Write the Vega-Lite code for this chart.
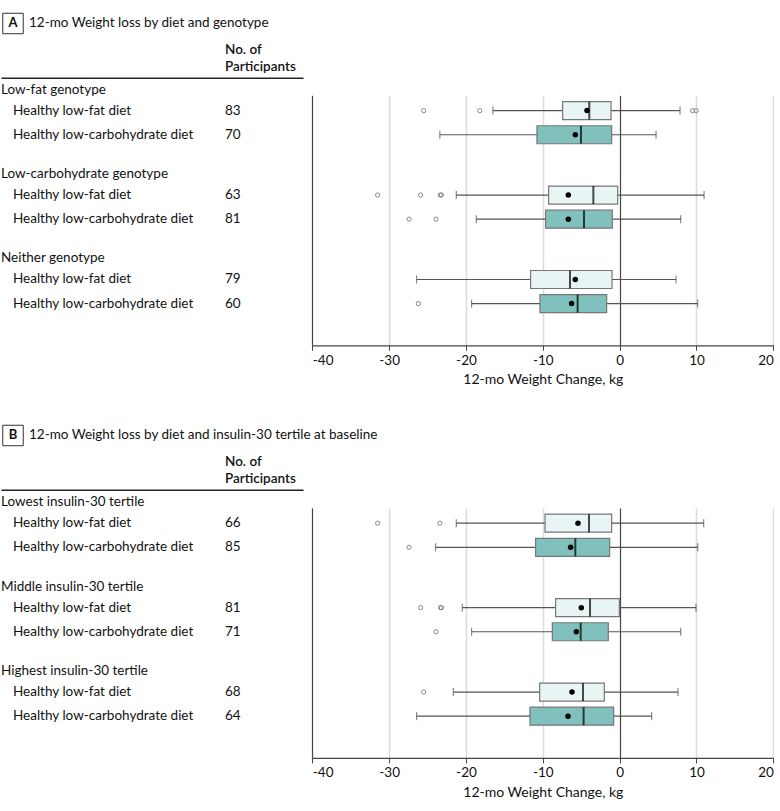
{
  "$schema": "https://vega.github.io/schema/vega-lite/v6.json",
  "padding": 0,
  "background": "white",
  "config": {"view": {"stroke": null}, "font": "Lato", "text": {"color": "#111", "fontSize": 13.5}},
  "datasets": {
    "boxA": [
      {"row": "Low-fat genotype / Healthy low-fat diet", "group": "Low-fat genotype", "diet": "Healthy low-fat diet", "n": 83, "lo": -16.5, "q1": -7.42, "median": -3.95, "q3": -1.12, "hi": 7.86, "mean": -4.25},
      {"row": "Low-fat genotype / Healthy low-carbohydrate diet", "group": "Low-fat genotype", "diet": "Healthy low-carbohydrate diet", "n": 70, "lo": -23.4, "q1": -10.76, "median": -5.03, "q3": -1.04, "hi": 4.74, "mean": -5.77},
      {"row": "Low-carbohydrate genotype / Healthy low-fat diet", "group": "Low-carbohydrate genotype", "diet": "Healthy low-fat diet", "n": 63, "lo": -21.26, "q1": -9.24, "median": -3.42, "q3": -0.26, "hi": 10.99, "mean": -6.68},
      {"row": "Low-carbohydrate genotype / Healthy low-carbohydrate diet", "group": "Low-carbohydrate genotype", "diet": "Healthy low-carbohydrate diet", "n": 81, "lo": -18.66, "q1": -9.64, "median": -4.64, "q3": -0.95, "hi": 7.95, "mean": -6.68},
      {"row": "Neither genotype / Healthy low-fat diet", "group": "Neither genotype", "diet": "Healthy low-fat diet", "n": 79, "lo": -26.43, "q1": -11.59, "median": -6.46, "q3": -0.99, "hi": 7.34, "mean": -5.77},
      {"row": "Neither genotype / Healthy low-carbohydrate diet", "group": "Neither genotype", "diet": "Healthy low-carbohydrate diet", "n": 60, "lo": -19.27, "q1": -10.37, "median": -5.47, "q3": -1.69, "hi": 10.16, "mean": -6.25}
    ],
    "outA": [
      {"row": "Low-fat genotype / Healthy low-fat diet", "value": -25.5},
      {"row": "Low-fat genotype / Healthy low-fat diet", "value": -18.2},
      {"row": "Low-fat genotype / Healthy low-fat diet", "value": 9.5},
      {"row": "Low-fat genotype / Healthy low-fat diet", "value": 9.95},
      {"row": "Low-carbohydrate genotype / Healthy low-fat diet", "value": -31.5},
      {"row": "Low-carbohydrate genotype / Healthy low-fat diet", "value": -25.9},
      {"row": "Low-carbohydrate genotype / Healthy low-fat diet", "value": -23.35},
      {"row": "Low-carbohydrate genotype / Healthy low-fat diet", "value": -23.2},
      {"row": "Low-carbohydrate genotype / Healthy low-carbohydrate diet", "value": -27.4},
      {"row": "Low-carbohydrate genotype / Healthy low-carbohydrate diet", "value": -23.9},
      {"row": "Neither genotype / Healthy low-carbohydrate diet", "value": -26.2}
    ],
    "boxB": [
      {"row": "Lowest insulin-30 tertile / Healthy low-fat diet", "group": "Lowest insulin-30 tertile", "diet": "Healthy low-fat diet", "n": 66, "lo": -21.26, "q1": -9.71, "median": -3.99, "q3": -1.04, "hi": 10.94, "mean": -5.42},
      {"row": "Lowest insulin-30 tertile / Healthy low-carbohydrate diet", "group": "Lowest insulin-30 tertile", "diet": "Healthy low-carbohydrate diet", "n": 85, "lo": -23.96, "q1": -10.94, "median": -5.77, "q3": -1.3, "hi": 10.16, "mean": -6.38},
      {"row": "Middle insulin-30 tertile / Healthy low-fat diet", "group": "Middle insulin-30 tertile", "diet": "Healthy low-fat diet", "n": 81, "lo": -20.48, "q1": -8.33, "median": -3.86, "q3": -0.04, "hi": 9.94, "mean": -4.99},
      {"row": "Middle insulin-30 tertile / Healthy low-carbohydrate diet", "group": "Middle insulin-30 tertile", "diet": "Healthy low-carbohydrate diet", "n": 71, "lo": -19.27, "q1": -8.76, "median": -5.07, "q3": -1.47, "hi": 7.95, "mean": -5.64},
      {"row": "Highest insulin-30 tertile / Healthy low-fat diet", "group": "Highest insulin-30 tertile", "diet": "Healthy low-fat diet", "n": 68, "lo": -21.65, "q1": -10.41, "median": -4.77, "q3": -1.99, "hi": 7.6, "mean": -6.2},
      {"row": "Highest insulin-30 tertile / Healthy low-carbohydrate diet", "group": "Highest insulin-30 tertile", "diet": "Healthy low-carbohydrate diet", "n": 64, "lo": -26.43, "q1": -11.67, "median": -4.69, "q3": -0.78, "hi": 4.17, "mean": -6.72}
    ],
    "outB": [
      {"row": "Lowest insulin-30 tertile / Healthy low-fat diet", "value": -31.5},
      {"row": "Lowest insulin-30 tertile / Healthy low-fat diet", "value": -23.4},
      {"row": "Lowest insulin-30 tertile / Healthy low-carbohydrate diet", "value": -27.4},
      {"row": "Middle insulin-30 tertile / Healthy low-fat diet", "value": -25.9},
      {"row": "Middle insulin-30 tertile / Healthy low-fat diet", "value": -23.3},
      {"row": "Middle insulin-30 tertile / Healthy low-fat diet", "value": -23.2},
      {"row": "Middle insulin-30 tertile / Healthy low-carbohydrate diet", "value": -23.9},
      {"row": "Highest insulin-30 tertile / Healthy low-fat diet", "value": -25.5}
    ],
    "headA": [{"letter": "A", "title": "12-mo Weight loss by diet and genotype", "col1": "No. of", "col2": "Participants"}],
    "headB": [{"letter": "B", "title": "12-mo Weight loss by diet and insulin-30 tertile at baseline", "col1": "No. of", "col2": "Participants"}]
  },
  "vconcat": [
    {
      "width": 302, "height": 77.7,
      "data": {"name": "headA"},
      "layer": [
        {"mark": {"type": "point", "shape": "square", "size": 420, "filled": false, "stroke": "#333", "strokeWidth": 1, "opacity": 1},
         "encoding": {
           "x": {"datum": "label", "type": "nominal", "scale": {"type": "point", "domain": ["label", "count"], "range": [0, 302], "padding": 0.2123, "align": 0.1333}, "axis": {"domain": true, "domainColor": "#222", "domainWidth": 1.5, "ticks": false, "labels": false, "grid": false, "title": null}},
           "y": {"datum": "title", "type": "nominal", "scale": {"type": "point", "domain": ["title", "cols"], "padding": 0.3931, "align": 0.6871}, "axis": null}}},
        {"mark": {"type": "text", "fontWeight": "bold", "align": "center", "baseline": "middle", "fontSize": 13},
         "encoding": {
           "x": {"datum": "label", "type": "nominal"},
           "y": {"datum": "title", "type": "nominal"},
           "text": {"field": "letter"}}},
        {"mark": {"type": "text", "align": "left", "baseline": "middle", "dx": 16, "fontSize": 13.5},
         "encoding": {
           "x": {"datum": "label", "type": "nominal"},
           "y": {"datum": "title", "type": "nominal"},
           "text": {"field": "title"}}},
        {"mark": {"type": "text", "align": "left", "baseline": "middle", "dy": -17, "fontWeight": 600},
         "encoding": {
           "x": {"datum": "count", "type": "nominal"},
           "y": {"datum": "cols", "type": "nominal"},
           "text": {"field": "col1"}}},
        {"mark": {"type": "text", "align": "left", "baseline": "middle", "fontWeight": 600},
         "encoding": {
           "x": {"datum": "count", "type": "nominal"},
           "y": {"datum": "cols", "type": "nominal"},
           "text": {"field": "col2"}}}
      ]
    },
    {
      "width": 773, "height": 250,
      "data": {"name": "boxA"},
      "resolve": {"scale": {"x": "independent"}},
      "layer": [
        {"mark": {"type": "text", "align": "left", "baseline": "middle"},
         "encoding": {
           "x": {"datum": "label", "type": "nominal", "scale": {"type": "point", "domain": ["label", "count"], "range": [0, 302], "padding": 0.2123, "align": 0.1333}, "axis": null},
           "y": {"field": "row", "type": "nominal", "scale": {"type": "point", "domain": ["Low-fat genotype / Healthy low-fat diet", "gap 1", "Low-fat genotype / Healthy low-carbohydrate diet", "gap 2", "gap 3", "gap 4", "gap 5", "Low-carbohydrate genotype / Healthy low-fat diet", "gap 6", "Low-carbohydrate genotype / Healthy low-carbohydrate diet", "gap 7", "gap 8", "gap 9", "gap 10", "Neither genotype / Healthy low-fat diet", "gap 11", "Neither genotype / Healthy low-carbohydrate diet", "gap 12", "gap 13", "gap 14"], "padding": 0.8627, "align": 0.7352}, "axis": null},
           "text": {"field": "diet"}}},
        {"mark": {"type": "text", "align": "left", "baseline": "middle"},
         "encoding": {
           "x": {"datum": "count", "type": "nominal", "scale": {"type": "point", "domain": ["label", "count"], "range": [0, 302], "padding": 0.2123, "align": 0.1333}, "axis": null},
           "y": {"field": "row", "type": "nominal"},
           "text": {"field": "n"}}},
        {"transform": [{"filter": "datum.diet === 'Healthy low-fat diet'"}],
         "mark": {"type": "text", "align": "left", "baseline": "middle", "dx": -12, "dy": -21},
         "encoding": {
           "x": {"datum": "label", "type": "nominal", "scale": {"type": "point", "domain": ["label", "count"], "range": [0, 302], "padding": 0.2123, "align": 0.1333}, "axis": null},
           "y": {"field": "row", "type": "nominal"},
           "text": {"field": "group"}}},
        {"mark": {"type": "rule", "color": "#555", "strokeWidth": 1.2},
         "encoding": {
           "x": {"field": "lo", "type": "quantitative", "scale": {"domain": [-40, 20], "range": [311.3, 772.3], "nice": false, "zero": false},
                 "axis": {"orient": "bottom", "title": "12-mo Weight Change, kg", "values": [-40, -30, -20, -10, 0, 10, 20], "labelExpr": "'' + datum.value", "grid": true,
                          "gridColor": {"condition": {"test": "datum.value === 0 || datum.value === -40", "value": "#444"}, "value": "#dcdcdc"},
                          "gridWidth": {"condition": {"test": "datum.value === 0 || datum.value === -40", "value": 1.2}, "value": 1.6},
                          "domainColor": "#444", "domainWidth": 1.2, "tickColor": "#444", "tickSize": 5, "labelFontSize": 13.5, "labelColor": "#111", "labelPadding": 3, "titleFontSize": 14, "titleFontWeight": "normal", "titleColor": "#111", "titlePadding": 6}},
           "x2": {"field": "hi"},
           "y": {"field": "row", "type": "nominal"}}},
        {"mark": {"type": "tick", "color": "#555", "thickness": 1.2, "size": 8},
         "encoding": {
           "x": {"field": "lo", "type": "quantitative", "scale": {"domain": [-40, 20], "range": [311.3, 772.3], "nice": false, "zero": false}, "axis": null},
           "y": {"field": "row", "type": "nominal"}}},
        {"mark": {"type": "tick", "color": "#555", "thickness": 1.2, "size": 8},
         "encoding": {
           "x": {"field": "hi", "type": "quantitative", "scale": {"domain": [-40, 20], "range": [311.3, 772.3], "nice": false, "zero": false}, "axis": null},
           "y": {"field": "row", "type": "nominal"}}},
        {"mark": {"type": "bar", "size": 18, "stroke": "#777", "strokeWidth": 1.2},
         "encoding": {
           "x": {"field": "q1", "type": "quantitative", "scale": {"domain": [-40, 20], "range": [311.3, 772.3], "nice": false, "zero": false}, "axis": null},
           "x2": {"field": "q3"},
           "y": {"field": "row", "type": "nominal"},
           "fill": {"field": "diet", "type": "nominal", "scale": {"domain": ["Healthy low-fat diet", "Healthy low-carbohydrate diet"], "range": ["#e9f4f4", "#80c1bd"]}, "legend": null}}},
        {"mark": {"type": "tick", "color": "#000", "thickness": 2, "size": 18},
         "encoding": {
           "x": {"field": "median", "type": "quantitative", "scale": {"domain": [-40, 20], "range": [311.3, 772.3], "nice": false, "zero": false}, "axis": null},
           "y": {"field": "row", "type": "nominal"}}},
        {"mark": {"type": "circle", "color": "#000", "size": 30, "opacity": 1},
         "encoding": {
           "x": {"field": "mean", "type": "quantitative", "scale": {"domain": [-40, 20], "range": [311.3, 772.3], "nice": false, "zero": false}, "axis": null},
           "y": {"field": "row", "type": "nominal"}}},
        {"data": {"name": "outA"},
         "mark": {"type": "point", "shape": "circle", "filled": false, "stroke": "#888", "strokeWidth": 1, "size": 18, "opacity": 1},
         "encoding": {
           "x": {"field": "value", "type": "quantitative", "scale": {"domain": [-40, 20], "range": [311.3, 772.3], "nice": false, "zero": false}, "axis": null},
           "y": {"field": "row", "type": "nominal"}}}
      ]
    },
    {
      "width": 302, "height": 127.1,
      "data": {"name": "headB"},
      "layer": [
        {"mark": {"type": "point", "shape": "square", "size": 420, "filled": false, "stroke": "#333", "strokeWidth": 1, "opacity": 1},
         "encoding": {
           "x": {"datum": "label", "type": "nominal", "scale": {"type": "point", "domain": ["label", "count"], "range": [0, 302], "padding": 0.2123, "align": 0.1333}, "axis": {"domain": true, "domainColor": "#222", "domainWidth": 1.5, "ticks": false, "labels": false, "grid": false, "title": null}},
           "y": {"datum": "title", "type": "nominal", "scale": {"type": "point", "domain": ["title", "cols"], "padding": 0.9609, "align": 0.872}, "axis": null}}},
        {"mark": {"type": "text", "fontWeight": "bold", "align": "center", "baseline": "middle", "fontSize": 13},
         "encoding": {
           "x": {"datum": "label", "type": "nominal"},
           "y": {"datum": "title", "type": "nominal"},
           "text": {"field": "letter"}}},
        {"mark": {"type": "text", "align": "left", "baseline": "middle", "dx": 16, "fontSize": 13.5},
         "encoding": {
           "x": {"datum": "label", "type": "nominal"},
           "y": {"datum": "title", "type": "nominal"},
           "text": {"field": "title"}}},
        {"mark": {"type": "text", "align": "left", "baseline": "middle", "dy": -17, "fontWeight": 600},
         "encoding": {
           "x": {"datum": "count", "type": "nominal"},
           "y": {"datum": "cols", "type": "nominal"},
           "text": {"field": "col1"}}},
        {"mark": {"type": "text", "align": "left", "baseline": "middle", "fontWeight": 600},
         "encoding": {
           "x": {"datum": "count", "type": "nominal"},
           "y": {"datum": "cols", "type": "nominal"},
           "text": {"field": "col2"}}}
      ]
    },
    {
      "width": 773, "height": 250,
      "data": {"name": "boxB"},
      "resolve": {"scale": {"x": "independent"}},
      "layer": [
        {"mark": {"type": "text", "align": "left", "baseline": "middle"},
         "encoding": {
           "x": {"datum": "label", "type": "nominal", "scale": {"type": "point", "domain": ["label", "count"], "range": [0, 302], "padding": 0.2123, "align": 0.1333}, "axis": null},
           "y": {"field": "row", "type": "nominal", "scale": {"type": "point", "domain": ["Lowest insulin-30 tertile / Healthy low-fat diet", "gap 1", "Lowest insulin-30 tertile / Healthy low-carbohydrate diet", "gap 2", "gap 3", "gap 4", "gap 5", "Middle insulin-30 tertile / Healthy low-fat diet", "gap 6", "Middle insulin-30 tertile / Healthy low-carbohydrate diet", "gap 7", "gap 8", "gap 9", "gap 10", "Highest insulin-30 tertile / Healthy low-fat diet", "gap 11", "Highest insulin-30 tertile / Healthy low-carbohydrate diet", "gap 12", "gap 13", "gap 14"], "padding": 0.8627, "align": 0.7352}, "axis": null},
           "text": {"field": "diet"}}},
        {"mark": {"type": "text", "align": "left", "baseline": "middle"},
         "encoding": {
           "x": {"datum": "count", "type": "nominal", "scale": {"type": "point", "domain": ["label", "count"], "range": [0, 302], "padding": 0.2123, "align": 0.1333}, "axis": null},
           "y": {"field": "row", "type": "nominal"},
           "text": {"field": "n"}}},
        {"transform": [{"filter": "datum.diet === 'Healthy low-fat diet'"}],
         "mark": {"type": "text", "align": "left", "baseline": "middle", "dx": -12, "dy": -21},
         "encoding": {
           "x": {"datum": "label", "type": "nominal", "scale": {"type": "point", "domain": ["label", "count"], "range": [0, 302], "padding": 0.2123, "align": 0.1333}, "axis": null},
           "y": {"field": "row", "type": "nominal"},
           "text": {"field": "group"}}},
        {"mark": {"type": "rule", "color": "#555", "strokeWidth": 1.2},
         "encoding": {
           "x": {"field": "lo", "type": "quantitative", "scale": {"domain": [-40, 20], "range": [311.3, 772.3], "nice": false, "zero": false},
                 "axis": {"orient": "bottom", "title": "12-mo Weight Change, kg", "values": [-40, -30, -20, -10, 0, 10, 20], "labelExpr": "'' + datum.value", "grid": true,
                          "gridColor": {"condition": {"test": "datum.value === 0 || datum.value === -40", "value": "#444"}, "value": "#dcdcdc"},
                          "gridWidth": {"condition": {"test": "datum.value === 0 || datum.value === -40", "value": 1.2}, "value": 1.6},
                          "domainColor": "#444", "domainWidth": 1.2, "tickColor": "#444", "tickSize": 5, "labelFontSize": 13.5, "labelColor": "#111", "labelPadding": 3, "titleFontSize": 14, "titleFontWeight": "normal", "titleColor": "#111", "titlePadding": 6}},
           "x2": {"field": "hi"},
           "y": {"field": "row", "type": "nominal"}}},
        {"mark": {"type": "tick", "color": "#555", "thickness": 1.2, "size": 8},
         "encoding": {
           "x": {"field": "lo", "type": "quantitative", "scale": {"domain": [-40, 20], "range": [311.3, 772.3], "nice": false, "zero": false}, "axis": null},
           "y": {"field": "row", "type": "nominal"}}},
        {"mark": {"type": "tick", "color": "#555", "thickness": 1.2, "size": 8},
         "encoding": {
           "x": {"field": "hi", "type": "quantitative", "scale": {"domain": [-40, 20], "range": [311.3, 772.3], "nice": false, "zero": false}, "axis": null},
           "y": {"field": "row", "type": "nominal"}}},
        {"mark": {"type": "bar", "size": 18, "stroke": "#777", "strokeWidth": 1.2},
         "encoding": {
           "x": {"field": "q1", "type": "quantitative", "scale": {"domain": [-40, 20], "range": [311.3, 772.3], "nice": false, "zero": false}, "axis": null},
           "x2": {"field": "q3"},
           "y": {"field": "row", "type": "nominal"},
           "fill": {"field": "diet", "type": "nominal", "scale": {"domain": ["Healthy low-fat diet", "Healthy low-carbohydrate diet"], "range": ["#e9f4f4", "#80c1bd"]}, "legend": null}}},
        {"mark": {"type": "tick", "color": "#000", "thickness": 2, "size": 18},
         "encoding": {
           "x": {"field": "median", "type": "quantitative", "scale": {"domain": [-40, 20], "range": [311.3, 772.3], "nice": false, "zero": false}, "axis": null},
           "y": {"field": "row", "type": "nominal"}}},
        {"mark": {"type": "circle", "color": "#000", "size": 30, "opacity": 1},
         "encoding": {
           "x": {"field": "mean", "type": "quantitative", "scale": {"domain": [-40, 20], "range": [311.3, 772.3], "nice": false, "zero": false}, "axis": null},
           "y": {"field": "row", "type": "nominal"}}},
        {"data": {"name": "outB"},
         "mark": {"type": "point", "shape": "circle", "filled": false, "stroke": "#888", "strokeWidth": 1, "size": 18, "opacity": 1},
         "encoding": {
           "x": {"field": "value", "type": "quantitative", "scale": {"domain": [-40, 20], "range": [311.3, 772.3], "nice": false, "zero": false}, "axis": null},
           "y": {"field": "row", "type": "nominal"}}}
      ]
    }
  ],
  "spacing": 17.3,
  "bounds": "flush"
}
